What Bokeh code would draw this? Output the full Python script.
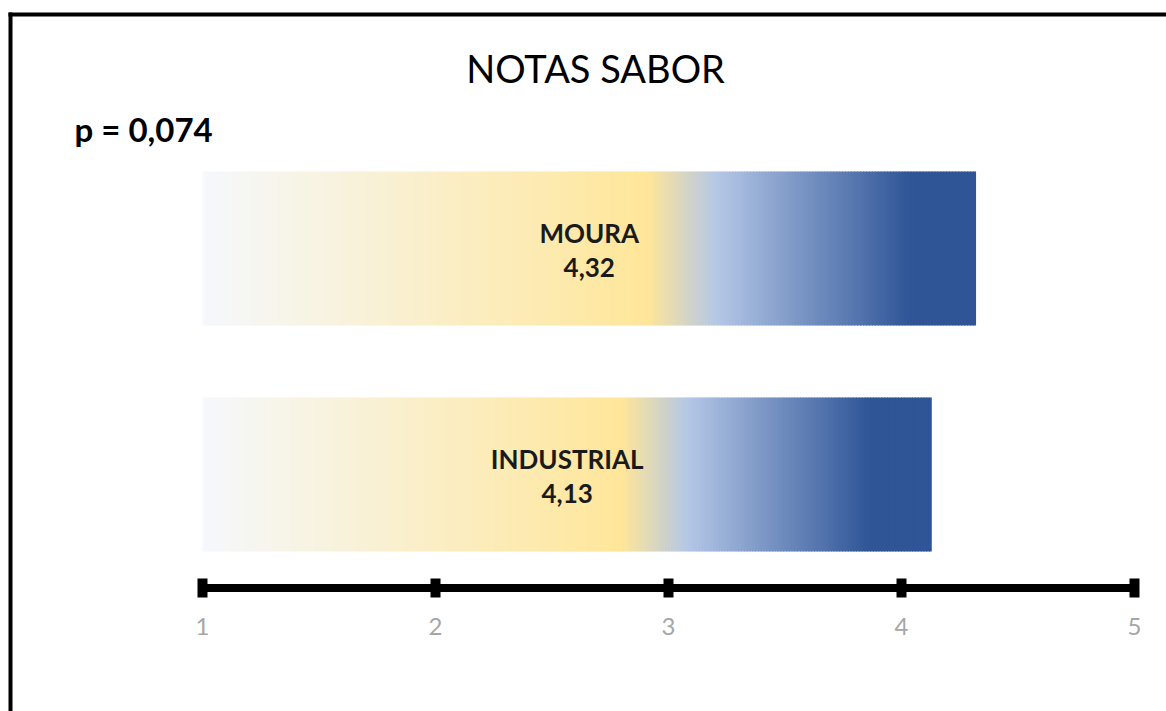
import numpy as np
from bokeh.plotting import figure
from bokeh.models import Range1d
from bokeh.core.properties import value
from bokeh.embed import file_html
from bokeh.resources import INLINE

# ---------------- data ----------------
title_text = "NOTAS SABOR"
p_value_text = "p = 0,074"
categories = ["INDUSTRIAL", "MOURA"]          # bottom -> top
scores = [4.13, 4.32]
score_labels = ["4,13", "4,32"]
axis_ticks = [1, 2, 3, 4, 5]
tick_labels = ["1", "2", "3", "4", "5"]
axis_min = 1

# ---------------- layout (pixels) ----------------
W, H = 1166, 711
PX_X = 233.0     # pixels per score unit
X1_PX = 202.0    # canvas x of score 1
PX_Y = 226.0     # pixels between category centres
Y0_PX = 474.0    # canvas y (from top) of first category centre

x_start = axis_min - X1_PX / PX_X
x_end = x_start + W / PX_X
y_top = Y0_PX / PX_Y
y_bottom = y_top - H / PX_Y


def dx(px):
    return x_start + px / PX_X


def dy(py):
    return y_top - py / PX_Y


p = figure(width=W, height=H, x_range=Range1d(x_start, x_end),
           y_range=Range1d(y_bottom, y_top), output_backend="svg",
           toolbar_location=None, min_border=0,
           x_axis_location=None, y_axis_location=None)
p.grid.visible = False
p.outline_line_color = None
p.background_fill_color = "white"
p.border_fill_color = "white"

# ---------------- gradient bars ----------------
stops_t = [0.0, 0.575, 0.665, 0.915, 1.0]
stops_c = ["#F5F8FC", "#FFE699", "#B4C7E7", "#2F5597", "#2F5597"]


def hex2rgb(h):
    h = h.lstrip("#")
    return [int(h[i:i + 2], 16) for i in (0, 2, 4)]


stops_rgb = np.array([hex2rgb(c) for c in stops_c], dtype=float)
bar_h = 154 / PX_Y
N = 260
for i, (cat, sc) in enumerate(zip(categories, scores)):
    edges = np.linspace(axis_min, sc, N + 1)
    mids = (edges[:-1] + edges[1:]) / 2
    t = (mids - axis_min) / (sc - axis_min)
    r = np.interp(t, stops_t, stops_rgb[:, 0])
    g = np.interp(t, stops_t, stops_rgb[:, 1])
    b = np.interp(t, stops_t, stops_rgb[:, 2])
    cols = ["#%02x%02x%02x" % (int(round(a)), int(round(bb)), int(round(c)))
            for a, bb, c in zip(r, g, b)]
    right = np.minimum(edges[1:] + 1.0 / PX_X, sc)
    p.quad(left=edges[:-1], right=right, bottom=i - bar_h / 2, top=i + bar_h / 2,
           fill_color=cols, line_color=None)

# bar labels
xs = [(axis_min + s) / 2 for s in scores]
ys = list(range(len(categories)))
p.text(x=xs, y=[y + 16 / PX_Y for y in ys], text=categories,
       text_font=value("Lato"), text_font_size="26px", text_font_style="bold",
       text_align="center", text_baseline="middle", text_color="#1a1a1a")
p.text(x=xs, y=[y - 19 / PX_Y for y in ys], text=score_labels,
       text_font=value("Lato"), text_font_size="26px", text_font_style="bold",
       text_align="center", text_baseline="middle", text_color="#1a1a1a")

# ---------------- axis ----------------
ay = dy(587.5)
p.segment(x0=[axis_ticks[0]], x1=[axis_ticks[-1]], y0=[ay], y1=[ay],
          line_width=8, line_color="black")
p.rect(x=axis_ticks, y=[ay] * len(axis_ticks), width=10, height=19,
       width_units="screen", height_units="screen",
       fill_color="black", line_color=None)
p.text(x=axis_ticks, y=[dy(626)] * len(axis_ticks), text=tick_labels,
       text_font=value("Lato"), text_font_size="24px",
       text_align="center", text_baseline="middle", text_color="#A6A6A6")

# ---------------- title & p-value ----------------
p.text(x=[dx(595)], y=[dy(67)], text=[title_text], text_font=value("Lato"),
       text_font_size="38px", text_align="center", text_baseline="middle",
       text_color="black")
p.text(x=[dx(74)], y=[dy(128)], text=[p_value_text], text_font=value("Lato"),
       text_font_size="33px", text_font_style="bold", text_align="left",
       text_baseline="middle", text_color="black")

# ---------------- frame border (top & left) ----------------
p.segment(x0=[dx(8)], x1=[x_end], y0=[dy(14)], y1=[dy(14)],
          line_width=4, line_color="black")
p.segment(x0=[dx(10)], x1=[dx(10)], y0=[dy(12)], y1=[y_bottom],
          line_width=4, line_color="black")

open("out.html", "w").write(file_html(p, INLINE))
